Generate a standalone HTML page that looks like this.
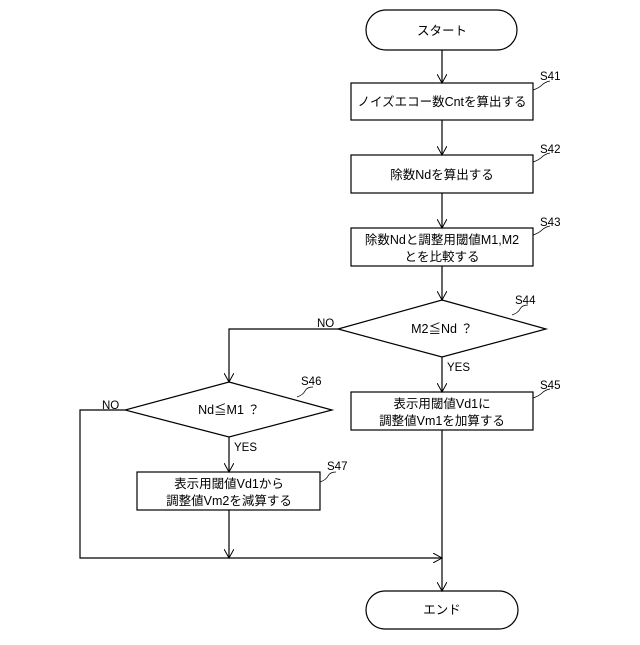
<!DOCTYPE html>
<html><head><meta charset="utf-8"><style>
html,body{margin:0;padding:0;background:#fff;}
svg text{font-family:"Liberation Sans","Noto Sans CJK JP",sans-serif;fill:#000;}
</style></head><body>
<svg width="640" height="640" viewBox="0 0 640 640" xmlns="http://www.w3.org/2000/svg">
<defs><marker id="a" markerWidth="10" markerHeight="10" refX="9" refY="5" orient="auto" markerUnits="userSpaceOnUse">
<path d="M0,0 L9,5 L0,10" fill="none" stroke="#000" stroke-width="1"/></marker></defs>
<g fill="none" stroke="#000" stroke-width="1.2">
<rect x="366" y="10" width="151" height="40" rx="20"/>
<rect x="351" y="83" width="182" height="37"/>
<rect x="351" y="155" width="182" height="38"/>
<rect x="351" y="228" width="182" height="38"/>
<polygon points="442,300 546,329 442,357 338,329"/>
<rect x="351" y="392" width="182" height="38"/>
<polygon points="229,382 332,410 229,437 125,410"/>
<rect x="137" y="472" width="183" height="38"/>
<rect x="366" y="591" width="152" height="38" rx="19"/>
<line x1="442" y1="50" x2="442" y2="83" marker-end="url(#a)"/>
<line x1="442" y1="120" x2="442" y2="155" marker-end="url(#a)"/>
<line x1="442" y1="193" x2="442" y2="228" marker-end="url(#a)"/>
<line x1="442" y1="266" x2="442" y2="300" marker-end="url(#a)"/>
<line x1="442" y1="357" x2="442" y2="392" marker-end="url(#a)"/>
<polyline points="338,329 229,329 229,382" marker-end="url(#a)"/>
<line x1="229" y1="437" x2="229" y2="472" marker-end="url(#a)"/>
<line x1="229" y1="510" x2="229" y2="558" marker-end="url(#a)"/>
<polyline points="125,410 80,410 80,558 442,558" marker-end="url(#a)"/>
<line x1="442" y1="430" x2="442" y2="591" marker-end="url(#a)"/>
<path d="M533,90 q6,-2 9,-5 t8,-4" stroke-width="0.8"/>
<path d="M533,162 q6,-2 9,-5 t8,-4" stroke-width="0.8"/>
<path d="M533,235 q6,-2 9,-5 t8,-4" stroke-width="0.8"/>
<path d="M512,315 q6,-2 8,-6 t8,-4" stroke-width="0.8"/>
<path d="M533,398 q6,-2 9,-5 t8,-4" stroke-width="0.8"/>
<path d="M297,397 q6,-2 8,-6 t8,-4" stroke-width="0.8"/>
<path d="M320,482 q6,-2 8,-6 t8,-4" stroke-width="0.8"/>
</g>
<g font-size="12.5" text-anchor="middle">
<text x="442" y="35">スタート</text>
<text x="442" y="106">ノイズエコー数Cntを算出する</text>
<text x="442" y="179">除数Ndを算出する</text>
<text x="442" y="244">除数Ndと調整用閾値M1,M2</text>
<text x="442" y="261">とを比較する</text>
<text x="442" y="333">M2≦Nd ？</text>
<text x="442" y="408">表示用閾値Vd1に</text>
<text x="442" y="425">調整値Vm1を加算する</text>
<text x="229" y="414">Nd≦M1 ？</text>
<text x="229" y="488">表示用閾値Vd1から</text>
<text x="229" y="505">調整値Vm2を減算する</text>
<text x="442" y="614">エンド</text>
</g>
<g font-size="11.5">
<text x="540" y="80">S41</text>
<text x="540" y="153">S42</text>
<text x="540" y="226">S43</text>
<text x="515" y="304">S44</text>
<text x="540" y="389">S45</text>
<text x="301" y="385">S46</text>
<text x="327" y="470">S47</text>
<text x="317" y="327">NO</text>
<text x="447" y="371">YES</text>
<text x="102" y="409">NO</text>
<text x="234" y="451">YES</text>
</g>
</svg>
</body></html>
